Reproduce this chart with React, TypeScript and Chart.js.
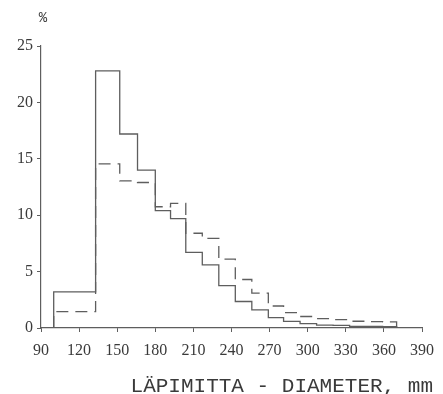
import React, { useEffect, useRef } from "react";
import { Chart, registerables } from "chart.js";

Chart.register(...registerables);

const binEdges = [100, 133, 152, 166, 180, 192, 204, 217, 230, 243, 256, 269, 281, 294, 307, 320, 333, 346, 359, 370];
const solidValues = [3.2, 22.8, 17.2, 14.0, 10.4, 9.7, 6.7, 5.6, 3.75, 2.35, 1.6, 0.92, 0.59, 0.39, 0.26, 0.24, 0.15, 0.14, 0.13];
const dashedValues = [1.45, 14.55, 13.05, 12.9, 10.75, 11.05, 8.4, 7.95, 6.1, 4.3, 3.1, 1.95, 1.36, 1.02, 0.83, 0.75, 0.6, 0.56, 0.55];
const xTicks = [90, 120, 150, 180, 210, 240, 270, 300, 330, 360, 390];
const yTicks = [0, 5, 10, 15, 20, 25];
const xTitle = "LÄPIMITTA - DIAMETER, mm";
const yTitle = "%";

function stepPoints(values: number[]) {
  const pts: { x: number; y: number }[] = [{ x: binEdges[0], y: 0 }];
  values.forEach((v, i) => pts.push({ x: binEdges[i], y: v }));
  pts.push({ x: binEdges[binEdges.length - 1], y: values[values.length - 1] });
  pts.push({ x: binEdges[binEdges.length - 1], y: 0 });
  return pts;
}

const lineColor = "#5e5e5e";
const textColor = "#3a3a3a";

export default function App() {
  const ref = useRef<HTMLCanvasElement>(null);
  useEffect(() => {
    if (!ref.current) return;
    const textPlugin = {
      id: "texts",
      afterDraw(chart: any) {
        const ctx = chart.ctx;
        ctx.save();
        ctx.fillStyle = textColor;
        ctx.font = "21px 'Liberation Mono'";
        ctx.textAlign = "right";
        ctx.textBaseline = "alphabetic";
        ctx.fillText(xTitle, 433, 392);
        ctx.font = "14px 'Liberation Mono'";
        ctx.textAlign = "center";
        ctx.fillText(yTitle, 43, 22);
        ctx.restore();
      },
    };
    const chart = new Chart(ref.current, {
      type: "line",
      data: {
        datasets: [
          {
            data: stepPoints(solidValues),
            stepped: "before",
            borderColor: lineColor,
            borderWidth: 1.3,
            pointRadius: 0,
            fill: false,
          },
          {
            data: stepPoints(dashedValues),
            stepped: "before",
            borderColor: lineColor,
            borderWidth: 1.3,
            borderDash: [12, 7],
            pointRadius: 0,
            fill: false,
          },
        ],
      },
      options: {
        animation: false,
        responsive: false,
        layout: { padding: { left: 0, top: 46, right: 16, bottom: 0 } },
        plugins: { legend: { display: false }, tooltip: { enabled: false } },
        scales: {
          x: {
            type: "linear",
            min: xTicks[0],
            max: xTicks[xTicks.length - 1],
            afterBuildTicks: (s: any) => {
              s.ticks = xTicks.map((v) => ({ value: v }));
            },
            afterFit: (s: any) => {
              s.height = 66;
            },
            grid: { display: true, drawOnChartArea: false, drawTicks: true, tickLength: 4, color: lineColor },
            border: { display: true, color: lineColor, width: 1.2 },
            ticks: {
              color: textColor,
              font: { family: "'Liberation Serif'", size: 16 },
              padding: 9,
              maxRotation: 0,
              autoSkip: false,
            },
          },
          y: {
            type: "linear",
            min: yTicks[0],
            max: yTicks[yTicks.length - 1],
            afterBuildTicks: (s: any) => {
              s.ticks = yTicks.map((v) => ({ value: v }));
            },
            afterFit: (s: any) => {
              s.width = 41;
            },
            grid: { display: true, drawOnChartArea: false, drawTicks: true, tickLength: 4, color: lineColor },
            border: { display: true, color: lineColor, width: 1.2 },
            ticks: {
              color: textColor,
              font: { family: "'Liberation Serif'", size: 16 },
              padding: 4,
              autoSkip: false,
            },
          },
        },
      },
      plugins: [textPlugin],
    });
    return () => chart.destroy();
  }, []);
  return (
    <canvas
      ref={ref}
      width={443}
      height={394}
      style={{ position: "fixed", left: 0, top: 0, width: 443, height: 394, display: "block", background: "#fff" }}
    />
  );
}
